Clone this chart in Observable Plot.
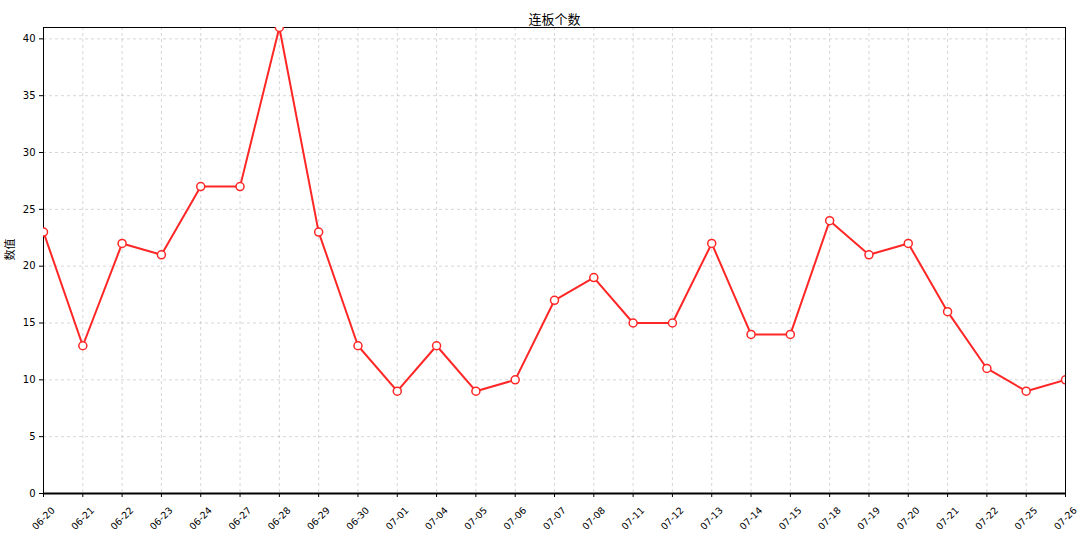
<!DOCTYPE html>
<html><head><meta charset="utf-8">
<script src="https://cdn.jsdelivr.net/npm/d3@7"></script>
<script src="https://cdn.jsdelivr.net/npm/@observablehq/plot@0.6"></script>
<style>body{margin:0;background:#fff}</style>
</head><body><div id="chart"></div>
<script>
const dates = ["06-20","06-21","06-22","06-23","06-24","06-27","06-28","06-29","06-30","07-01","07-04","07-05","07-06","07-07","07-08","07-11","07-12","07-13","07-14","07-15","07-18","07-19","07-20","07-21","07-22","07-25","07-26"];
const values = [23,13,22,21,27,27,41,23,13,9,13,9,10,17,19,15,15,22,14,14,24,21,22,16,11,9,10];
const yTicks = [0,5,10,15,20,25,30,35,40];
const title = "连板个数";
const yLabel = "数值";
const data = dates.map((d,i)=>({date:d, value:values[i]}));
const cjk = "'Noto Sans CJK SC', 'DejaVu Sans', sans-serif";
const plot = Plot.plot({
  width:1080, height:539, marginLeft:43, marginRight:15, marginTop:27, marginBottom:46,
  style:{fontFamily:"'DejaVu Sans', sans-serif", fontSize:"10px", background:"#fff", color:"#000"},
  x:{type:"point", domain:dates, padding:0, round:false, axis:null, label:null},
  y:{domain:[0,41], axis:null, label:null},
  marks:[
    Plot.gridX(dates, {stroke:"#b0b0b0", strokeOpacity:0.5, strokeDasharray:"3,3"}),
    Plot.gridY(yTicks, {stroke:"#b0b0b0", strokeOpacity:0.5, strokeDasharray:"3,3"}),
    Plot.frame({stroke:"#000", strokeWidth:1}),
    Plot.ruleY([0], {stroke:"#000", strokeWidth:2}),
    Plot.axisY(yTicks, {tickSize:4, tickPadding:4, fontSize:10, label:null}),
    Plot.axisX(dates, {tickSize:4, tickFormat:()=>"", label:null}),
    Plot.text(dates, {x:d=>d, frameAnchor:"bottom", dy:25, rotate:-45, textAnchor:"middle", lineAnchor:"middle", text:d=>d, fontSize:9.5}),
    Plot.line(data, {x:"date", y:"value", stroke:"#ff2626", strokeWidth:2, clip:true}),
    Plot.dot(data, {x:"date", y:"value", r:4, fill:"white", stroke:"#ff2626", strokeWidth:1.5, clip:true}),
    Plot.text([yLabel], {frameAnchor:"left", dx:-33, rotate:-90, fontSize:11, fontFamily:cjk, text:d=>d}),
    Plot.text([title], {frameAnchor:"top", dy:-13, fontSize:13, fontFamily:cjk, text:d=>d})
  ]
});
document.getElementById("chart").appendChild(plot);
</script>
</body></html>
